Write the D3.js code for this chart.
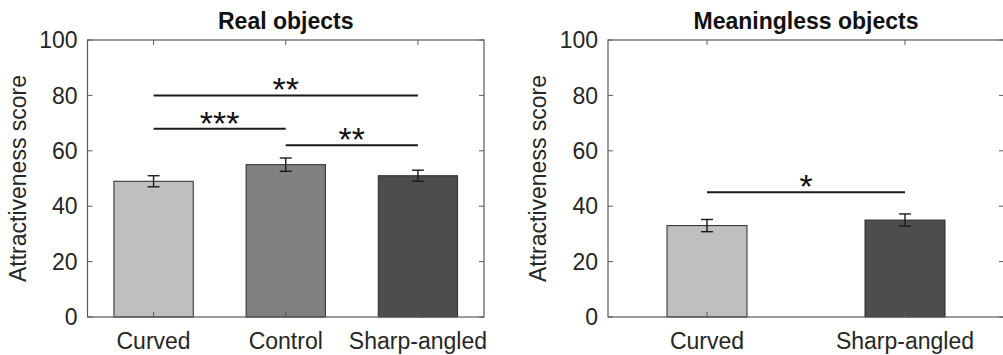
<!DOCTYPE html>
<html>
<head>
<meta charset="utf-8">
<script src="https://cdn.jsdelivr.net/npm/d3@7"></script>
<style>
  body { margin: 0; background: #fff; }
  svg text { font-family: "Liberation Sans", Arial, sans-serif; }
</style>
</head>
<body>
<div id="chart"></div>
<script>
// panel 1: real objects
var realCats = ["Curved", "Control", "Sharp-angled"];
var realMeans = [49, 55, 51];
var realErr = [2, 2.4, 2];
var realSig = [
  { a: "Curved", b: "Sharp-angled", y: 80, label: "**" },
  { a: "Curved", b: "Control", y: 68, label: "***" },
  { a: "Control", b: "Sharp-angled", y: 62, label: "**" }
];

// panel 2: meaningless objects
var meanCats = ["Curved", "Sharp-angled"];
var meanMeans = [33, 35];
var meanErr = [2.2, 2.2];
var meanSig = [
  { a: "Curved", b: "Sharp-angled", y: 45, label: "*" }
];

var yTicks = [0, 20, 40, 60, 80, 100];
var barColors = {
  "Curved": "#bfbfbf",
  "Control": "#808080",
  "Sharp-angled": "#4d4d4d"
};

var width = 1003;
var height = 355;
var plotTop = 40, plotBottom = 317;
var fontSize = 23;

var svg = d3.select("#chart")
  .append("svg")
  .attr("width", width)
  .attr("height", height);

function drawPanel(title, cats, means, errs, sigs, left, right, barFrac) {
  var g = svg.append("g");

  var x = d3.scaleBand()
    .domain(cats)
    .range([left, right])
    .paddingInner(1 - barFrac)
    .paddingOuter((1 - barFrac) / 2);

  var y = d3.scaleLinear()
    .domain([0, 100])
    .range([plotBottom, plotTop]);

  var rows = cats.map(function (c, i) {
    return { cat: c, mean: means[i], err: errs[i] };
  });

  // bars
  g.selectAll("rect.bar")
    .data(rows)
    .enter()
    .append("rect")
    .attr("class", "bar")
    .attr("x", (d) => x(d.cat))
    .attr("y", (d) => y(d.mean))
    .attr("width", x.bandwidth())
    .attr("height", (d) => y(0) - y(d.mean))
    .attr("fill", (d) => barColors[d.cat])
    .attr("stroke", "#2a2a2a")
    .attr("stroke-width", 1);

  // error bars
  var eb = g.selectAll("g.err")
    .data(rows)
    .enter()
    .append("g")
    .attr("class", "err")
    .attr("stroke", "#1a1a1a")
    .attr("stroke-width", 1.4);
  var cx = (d) => x(d.cat) + x.bandwidth() / 2;
  eb.append("line")
    .attr("x1", cx).attr("x2", cx)
    .attr("y1", (d) => y(d.mean + d.err))
    .attr("y2", (d) => y(d.mean - d.err));
  eb.append("line")
    .attr("x1", (d) => cx(d) - 6).attr("x2", (d) => cx(d) + 6)
    .attr("y1", (d) => y(d.mean + d.err))
    .attr("y2", (d) => y(d.mean + d.err));
  eb.append("line")
    .attr("x1", (d) => cx(d) - 6).attr("x2", (d) => cx(d) + 6)
    .attr("y1", (d) => y(d.mean - d.err))
    .attr("y2", (d) => y(d.mean - d.err));

  // box
  g.append("rect")
    .attr("x", left)
    .attr("y", plotTop)
    .attr("width", right - left)
    .attr("height", plotBottom - plotTop)
    .attr("fill", "none")
    .attr("stroke", "#5a5a5a")
    .attr("stroke-width", 1.2);

  // ticks on all four sides, pointing inward
  var tk = 5;
  yTicks.forEach(function (t) {
    g.append("line")
      .attr("x1", left).attr("x2", left + tk)
      .attr("y1", y(t)).attr("y2", y(t))
      .attr("stroke", "#5a5a5a");
    g.append("line")
      .attr("x1", right).attr("x2", right - tk)
      .attr("y1", y(t)).attr("y2", y(t))
      .attr("stroke", "#5a5a5a");
  });
  cats.forEach(function (c) {
    var px = x(c) + x.bandwidth() / 2;
    g.append("line")
      .attr("x1", px).attr("x2", px)
      .attr("y1", plotBottom).attr("y2", plotBottom - tk)
      .attr("stroke", "#5a5a5a");
    g.append("line")
      .attr("x1", px).attr("x2", px)
      .attr("y1", plotTop).attr("y2", plotTop + tk)
      .attr("stroke", "#5a5a5a");
  });

  // tick labels
  g.selectAll("text.ytick")
    .data(yTicks)
    .enter()
    .append("text")
    .attr("class", "ytick")
    .attr("x", left - 10)
    .attr("y", (d) => y(d))
    .attr("dy", "0.36em")
    .attr("text-anchor", "end")
    .attr("font-size", fontSize)
    .attr("fill", "#262626")
    .text((d) => d);

  g.selectAll("text.xtick")
    .data(cats)
    .enter()
    .append("text")
    .attr("class", "xtick")
    .attr("x", (d) => x(d) + x.bandwidth() / 2)
    .attr("y", 349)
    .attr("text-anchor", "middle")
    .attr("font-size", fontSize)
    .attr("fill", "#262626")
    .text((d) => d);

  // axis label
  g.append("text")
    .attr("transform", "translate(" + (left - 62) + "," + ((plotTop + plotBottom) / 2) + ") rotate(-90)")
    .attr("text-anchor", "middle")
    .attr("font-size", fontSize)
    .attr("fill", "#262626")
    .text("Attractiveness score");

  // title
  g.append("text")
    .attr("x", (left + right) / 2)
    .attr("y", 29)
    .attr("text-anchor", "middle")
    .attr("font-size", 23)
    .attr("font-weight", "bold")
    .attr("fill", "#111")
    .text(title);

  // significance bars
  sigs.forEach(function (s) {
    var x1 = x(s.a) + x.bandwidth() / 2;
    var x2 = x(s.b) + x.bandwidth() / 2;
    g.append("line")
      .attr("x1", x1).attr("x2", x2)
      .attr("y1", y(s.y)).attr("y2", y(s.y))
      .attr("stroke", "#1a1a1a")
      .attr("stroke-width", 2);
    g.append("text")
      .attr("x", (x1 + x2) / 2)
      .attr("y", y(s.y) + 6)
      .attr("text-anchor", "middle")
      .attr("font-size", 34)
      .attr("fill", "#111")
      .text(s.label);
  });
}

drawPanel("Real objects", realCats, realMeans, realErr, realSig, 87.5, 484, 0.6);
drawPanel("Meaningless objects", meanCats, meanMeans, meanErr, meanSig, 608, 1004, 80 / 198);
</script>
</body>
</html>
